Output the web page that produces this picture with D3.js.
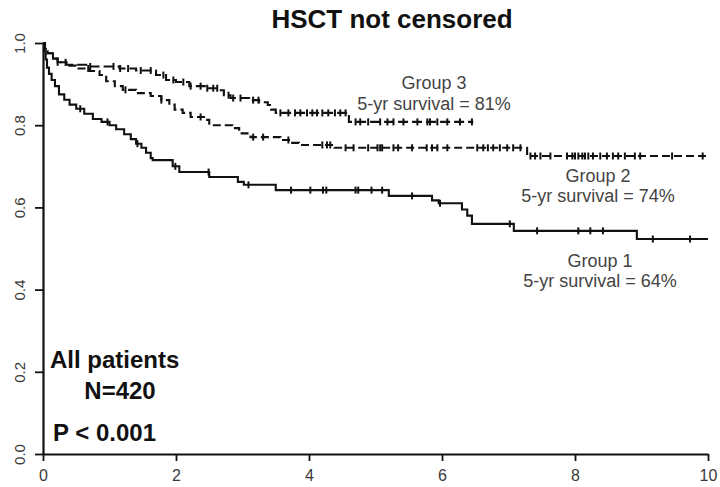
<!DOCTYPE html>
<html>
<head>
<meta charset="utf-8">
<script src="https://cdn.jsdelivr.net/npm/d3@7"></script>
<style>
  html, body { margin: 0; padding: 0; background: #fff; }
  svg { display: block; font-family: "Liberation Sans", Arial, sans-serif; }
</style>
</head>
<body>
<svg id="chart" width="720" height="487"></svg>
<script>
// Kaplan-Meier steps: event times (years) and survival after each step
const group1Times = [0, 0.02, 0.04, 0.06, 0.09, 0.13, 0.18, 0.24, 0.32, 0.40, 0.50, 0.62, 0.75, 0.88, 1.00, 1.10, 1.22, 1.32, 1.40, 1.48, 1.55, 1.62, 1.65, 1.95, 2.05, 2.50, 2.93, 3.02, 3.50, 5.20, 5.85, 5.95, 6.30, 6.38, 6.45, 7.08, 8.93, 10.0];
const group1Surv  = [1.0, 0.98, 0.96, 0.94, 0.925, 0.91, 0.895, 0.875, 0.862, 0.85, 0.84, 0.828, 0.815, 0.808, 0.80, 0.79, 0.778, 0.766, 0.755, 0.745, 0.733, 0.72, 0.715, 0.70, 0.686, 0.674, 0.662, 0.655, 0.642, 0.628, 0.617, 0.61, 0.595, 0.58, 0.56, 0.543, 0.523, 0.523];
const group1Censor = [0.56, 0.97, 1.42, 1.99, 2.49, 3.09, 3.73, 4.02, 4.21, 4.26, 4.70, 4.74, 4.94, 5.10, 5.55, 5.97, 7.02, 7.43, 8.05, 8.23, 8.42, 9.17, 9.73];

const group2Times = [0, 0.03, 0.07, 0.15, 0.22, 0.35, 0.50, 0.70, 0.85, 0.95, 1.08, 1.20, 1.40, 1.62, 1.78, 1.90, 1.98, 2.10, 2.22, 2.42, 2.50, 2.85, 2.95, 3.12, 3.57, 3.72, 3.85, 4.38, 7.28, 9.98];
const group2Surv  = [1.0, 0.985, 0.975, 0.962, 0.953, 0.945, 0.938, 0.932, 0.922, 0.907, 0.895, 0.886, 0.878, 0.871, 0.861, 0.85, 0.838, 0.83, 0.82, 0.813, 0.80, 0.793, 0.78, 0.771, 0.764, 0.757, 0.752, 0.745, 0.725, 0.725];
const group2Censor = [0.68, 1.24, 1.78, 2.37, 3.16, 3.31, 3.69, 4.20, 4.27, 4.32, 4.55, 4.67, 4.89, 5.03, 5.07, 5.10, 5.27, 5.34, 5.55, 5.77, 5.85, 5.93, 6.08, 6.53, 6.62, 6.69, 6.77, 6.87, 6.98, 7.07, 7.18, 7.33, 7.40, 7.48, 7.63, 7.88, 7.96, 8.00, 8.05, 8.11, 8.15, 8.20, 8.27, 8.38, 8.48, 8.57, 8.65, 8.75, 8.90, 8.98, 9.46, 9.92];

const group3Times = [0, 0.03, 0.07, 0.15, 0.22, 0.35, 0.70, 1.15, 1.40, 1.70, 1.85, 2.00, 2.20, 2.45, 2.65, 2.72, 2.82, 3.10, 3.25, 3.38, 3.43, 3.50, 4.60, 6.47];
const group3Surv  = [1.0, 0.985, 0.975, 0.962, 0.953, 0.947, 0.943, 0.938, 0.933, 0.922, 0.91, 0.905, 0.895, 0.89, 0.885, 0.873, 0.866, 0.861, 0.856, 0.849, 0.838, 0.83, 0.808, 0.808];
const group3Censor = [0.22, 0.34, 0.71, 1.06, 1.16, 1.28, 1.47, 1.62, 1.81, 1.96, 2.11, 2.22, 2.37, 2.47, 2.56, 2.62, 2.79, 2.86, 2.97, 3.16, 3.24, 3.57, 3.69, 3.79, 3.87, 3.97, 4.05, 4.12, 4.20, 4.29, 4.39, 4.47, 4.55, 4.70, 4.77, 4.89, 5.07, 5.18, 5.27, 5.42, 5.63, 5.78, 5.82, 5.93, 6.08, 6.27, 6.45];

const xTicks = [0, 2, 4, 6, 8, 10];
const yTicks = [0.0, 0.2, 0.4, 0.6, 0.8, 1.0];

const groupLabels = ["Group 1", "Group 2", "Group 3"];
const survivalLabels = ["5-yr survival = 64%", "5-yr survival = 74%", "5-yr survival = 81%"];

const svg = d3.select("#chart");
svg.append("rect").attr("width", 720).attr("height", 487).attr("fill", "#fff");

const x = d3.scaleLinear().domain([0, 10]).range([43, 708]);
const y = d3.scaleLinear().domain([0, 1]).range([454, 43]);

// Axes
const yAxis = svg.append("g")
  .attr("transform", `translate(${x(0)},0)`)
  .call(d3.axisLeft(y).tickValues(yTicks).tickFormat(d3.format(".1f")).tickSize(8).tickSizeOuter(0));
yAxis.select(".domain").attr("stroke", "#111").attr("stroke-width", 2.2);
yAxis.selectAll(".tick line").attr("stroke", "#111").attr("stroke-width", 1.8);
yAxis.selectAll(".tick text")
  .attr("transform", "rotate(-90)")
  .attr("x", 0).attr("y", -18).attr("dy", 0)
  .attr("text-anchor", "middle")
  .attr("fill", "#3a3a3a")
  .style("font-size", "15px")
  .style("font-family", "'Liberation Sans', Arial, sans-serif");

const xAxis = svg.append("g")
  .attr("transform", `translate(0,${y(0)})`)
  .call(d3.axisBottom(x).tickValues(xTicks).tickSize(7).tickSizeOuter(0));
xAxis.select(".domain").attr("stroke", "#111").attr("stroke-width", 2.2);
xAxis.selectAll(".tick line").attr("stroke", "#111").attr("stroke-width", 1.8);
xAxis.selectAll(".tick text")
  .attr("y", 16)
  .attr("fill", "#3a3a3a")
  .style("font-size", "16px")
  .style("font-family", "'Liberation Sans', Arial, sans-serif");

// Survival curves
const groups = [
  { times: group1Times, surv: group1Surv, censor: group1Censor, dash: null },
  { times: group2Times, surv: group2Surv, censor: group2Censor, dash: "8,4" },
  { times: group3Times, surv: group3Surv, censor: group3Censor, dash: "10,4" }
];

const line = d3.line()
  .x(d => x(d[0]))
  .y(d => y(d[1]))
  .curve(d3.curveStepAfter);

function survAt(g, t) {
  const i = d3.bisectRight(g.times, t) - 1;
  return g.surv[Math.max(0, i)];
}

groups.forEach(g => {
  const pts = g.times.map((t, i) => [t, g.surv[i]]);
  svg.append("path")
    .datum(pts)
    .attr("d", line)
    .attr("fill", "none")
    .attr("stroke", "#111")
    .attr("stroke-width", 2.1)
    .attr("stroke-dasharray", g.dash);

  svg.append("g").selectAll("line")
    .data(g.censor)
    .join("line")
    .attr("x1", t => x(t)).attr("x2", t => x(t))
    .attr("y1", t => y(survAt(g, t)) - 3.5)
    .attr("y2", t => y(survAt(g, t)) + 3.5)
    .attr("stroke", "#111")
    .attr("stroke-width", 2);
});

// Title
svg.append("text")
  .attr("x", 392).attr("y", 28)
  .attr("text-anchor", "middle")
  .style("font-size", "26px").style("font-weight", "bold")
  .attr("fill", "#111")
  .text("HSCT not censored");

// Group annotations
const labelPos = [[600, 267, 287], [598, 182, 202], [434, 89, 110]];
labelPos.forEach((p, i) => {
  svg.append("text")
    .attr("x", p[0]).attr("y", p[1])
    .attr("text-anchor", "middle")
    .style("font-size", "18px").attr("fill", "#444")
    .text(groupLabels[i]);
  svg.append("text")
    .attr("x", p[0]).attr("y", p[2])
    .attr("text-anchor", "middle")
    .style("font-size", "18px").attr("fill", "#444")
    .text(survivalLabels[i]);
});

// Cohort note
const note = [["All patients", 50, 368, "start"], ["N=420", 120, 399, "middle"], ["P < 0.001", 53, 441, "start"]];
note.forEach(n => {
  svg.append("text")
    .attr("x", n[1]).attr("y", n[2])
    .attr("text-anchor", n[3])
    .style("font-size", "24px").style("font-weight", "bold")
    .attr("fill", "#111")
    .text(n[0]);
});
</script>
</body>
</html>
